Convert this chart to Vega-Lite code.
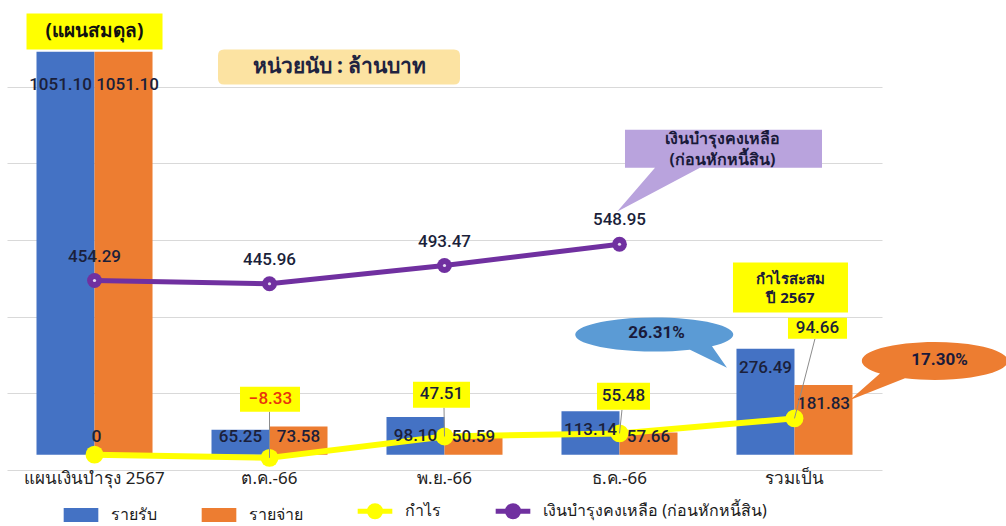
{
  "$schema": "https://vega.github.io/schema/vega-lite/v6.json",
  "width": 875,
  "height": 460,
  "padding": {"left": 7, "top": 10, "right": 0, "bottom": 0},
  "background": "white",
  "config": {"view": {"stroke": null}, "font": "Roboto"},
  "datasets": {
    "main": [
      {"cat": "แผนเงินบำรุง 2567", "series": "รายรับ", "value": 1051.10},
      {"cat": "แผนเงินบำรุง 2567", "series": "รายจ่าย", "value": 1051.10},
      {"cat": "แผนเงินบำรุง 2567", "series": "กำไร", "value": 0},
      {"cat": "แผนเงินบำรุง 2567", "series": "เงินบำรุงคงเหลือ (ก่อนหักหนี้สิน)", "value": 454.29},
      {"cat": "ต.ค.-66", "series": "รายรับ", "value": 65.25},
      {"cat": "ต.ค.-66", "series": "รายจ่าย", "value": 73.58},
      {"cat": "ต.ค.-66", "series": "กำไร", "value": -8.33},
      {"cat": "ต.ค.-66", "series": "เงินบำรุงคงเหลือ (ก่อนหักหนี้สิน)", "value": 445.96},
      {"cat": "พ.ย.-66", "series": "รายรับ", "value": 98.10},
      {"cat": "พ.ย.-66", "series": "รายจ่าย", "value": 50.59},
      {"cat": "พ.ย.-66", "series": "กำไร", "value": 47.51},
      {"cat": "พ.ย.-66", "series": "เงินบำรุงคงเหลือ (ก่อนหักหนี้สิน)", "value": 493.47},
      {"cat": "ธ.ค.-66", "series": "รายรับ", "value": 113.14},
      {"cat": "ธ.ค.-66", "series": "รายจ่าย", "value": 57.66},
      {"cat": "ธ.ค.-66", "series": "กำไร", "value": 55.48},
      {"cat": "ธ.ค.-66", "series": "เงินบำรุงคงเหลือ (ก่อนหักหนี้สิน)", "value": 548.95},
      {"cat": "รวมเป็น", "series": "รายรับ", "value": 276.49},
      {"cat": "รวมเป็น", "series": "รายจ่าย", "value": 181.83},
      {"cat": "รวมเป็น", "series": "กำไร", "value": 94.66}
    ],
    "notes": [
      {"id": "plan", "text": "(แผนสมดุล)"},
      {"id": "unit", "text": "หน่วยนับ : ล้านบาท"},
      {"id": "reserve", "text": "เงินบำรุงคงเหลือ\n(ก่อนหักหนี้สิน)"},
      {"id": "cum", "text": "กำไรสะสม\nปี 2567"},
      {"id": "inc", "text": "26.31%"},
      {"id": "exp", "text": "17.30%"}
    ]
  },
  "data": {"name": "main"},
  "layer": [
    {
      "transform": [{"filter": {"field": "series", "oneOf": ["รายรับ", "รายจ่าย"]}}],
      "mark": {"type": "bar"},
      "encoding": {
        "x": {"field": "cat", "type": "nominal", "title": null,
          "scale": {"domain": ["แผนเงินบำรุง 2567", "ต.ค.-66", "พ.ย.-66", "ธ.ค.-66", "รวมเป็น"], "paddingInner": 0.337, "paddingOuter": 0.1686},
          "axis": {"domain": false, "ticks": false, "labelAngle": 0, "labelFontSize": 17, "labelColor": "#222222", "labelPadding": 0, "labelLimit": 300, "labelFont": "Noto Sans"}},
        "xOffset": {"field": "series", "type": "nominal", "scale": {"domain": ["รายรับ", "รายจ่าย"], "paddingInner": 0, "paddingOuter": 0}},
        "y": {"field": "value", "type": "quantitative", "title": null,
          "scale": {"domain": [-40, 1160], "nice": false, "zero": false},
          "axis": {"values": [-40, 160, 360, 560, 760, 960], "labels": false, "ticks": false, "domain": false, "grid": true, "gridColor": "#d9d9d9", "gridWidth": 1.2}},
        "color": {"field": "series", "type": "nominal",
          "scale": {"domain": ["รายรับ", "รายจ่าย", "กำไร", "เงินบำรุงคงเหลือ (ก่อนหักหนี้สิน)"], "range": ["#4472C4", "#ED7D31", "#FFFF00", "#7030A0"]},
          "legend": {"orient": "none", "legendX": 66, "legendY": 493, "direction": "horizontal", "title": null,
            "labelFont": "Noto Sans", "labelFontSize": 16, "labelColor": "#1a1a1a", "labelLimit": 500, "symbolSize": 1200, "columnPadding": 44, "labelOffset": 22,
            "encode": {"symbols": {"update": {
              "shape": {"signal": "(datum.value == 'รายรับ' || datum.value == 'รายจ่าย') ? 'M-1,-0.4H1V0.4H-1Z' : 'M-1,0H1M0.32,0A0.32,0.32 0 1,1 -0.32,0A0.32,0.32 0 1,1 0.32,0Z'"},
              "fill": {"signal": "scale('color', datum.value)"},
              "stroke": {"signal": "scale('color', datum.value)"},
              "strokeWidth": {"signal": "(datum.value == 'รายรับ' || datum.value == 'รายจ่าย') ? 0 : 5"},
              "opacity": {"value": 1}, "fillOpacity": {"value": 1}, "strokeOpacity": {"value": 1}
            }}}}
        }
      }
    },
    {
      "transform": [{"filter": {"field": "series", "equal": "รายรับ"}}, {"filter": "datum.value > 1000"}],
      "mark": {"type": "text", "dy": 33, "dx": -5, "fontSize": 17, "fontWeight": 500, "color": "#1b1f3a"},
      "encoding": {"x": {"field": "cat", "type": "nominal"}, "xOffset": {"field": "series", "type": "nominal"}, "y": {"field": "value", "type": "quantitative"}, "text": {"field": "value", "type": "quantitative", "format": ".2f"}}
    },
    {
      "transform": [{"filter": {"field": "series", "equal": "รายจ่าย"}}, {"filter": "datum.value > 1000"}],
      "mark": {"type": "text", "dy": 33, "dx": 4, "fontSize": 17, "fontWeight": 500, "color": "#1b1f3a"},
      "encoding": {"x": {"field": "cat", "type": "nominal"}, "xOffset": {"field": "series", "type": "nominal"}, "y": {"field": "value", "type": "quantitative"}, "text": {"field": "value", "type": "quantitative", "format": ".2f"}}
    },
    {
      "transform": [{"filter": {"field": "series", "equal": "เงินบำรุงคงเหลือ (ก่อนหักหนี้สิน)"}}],
      "mark": {"type": "line", "strokeWidth": 5, "point": {"filled": true, "size": 220, "opacity": 1}},
      "encoding": {"x": {"field": "cat", "type": "nominal"}, "y": {"field": "value", "type": "quantitative"}, "color": {"field": "series", "type": "nominal"}}
    },
    {
      "transform": [{"filter": {"field": "series", "equal": "เงินบำรุงคงเหลือ (ก่อนหักหนี้สิน)"}}],
      "mark": {"type": "point", "filled": true, "size": 10, "color": "#e6dcf2", "opacity": 1},
      "encoding": {"x": {"field": "cat", "type": "nominal"}, "y": {"field": "value", "type": "quantitative"}}
    },
    {
      "transform": [{"filter": {"field": "series", "equal": "เงินบำรุงคงเหลือ (ก่อนหักหนี้สิน)"}}],
      "mark": {"type": "text", "dy": -24, "fontSize": 17, "fontWeight": 500, "color": "#1b1f3a"},
      "encoding": {"x": {"field": "cat", "type": "nominal"}, "y": {"field": "value", "type": "quantitative"}, "text": {"field": "value", "type": "quantitative", "format": ".2f"}}
    },
    {
      "transform": [{"filter": {"field": "series", "equal": "กำไร"}}],
      "mark": {"type": "line", "strokeWidth": 6, "point": {"filled": true, "size": 320, "opacity": 1}},
      "encoding": {"x": {"field": "cat", "type": "nominal"}, "y": {"field": "value", "type": "quantitative"}, "color": {"field": "series", "type": "nominal"}}
    },
    {
      "transform": [{"filter": {"field": "series", "oneOf": ["รายรับ", "รายจ่าย"]}}, {"filter": "datum.value >= 90 && datum.value <= 1000"}],
      "mark": {"type": "text", "dy": 19, "fontSize": 17, "fontWeight": 500, "color": "#1b1f3a"},
      "encoding": {"x": {"field": "cat", "type": "nominal"}, "xOffset": {"field": "series", "type": "nominal"}, "y": {"field": "value", "type": "quantitative"}, "text": {"field": "value", "type": "quantitative", "format": ".2f"}}
    },
    {
      "transform": [{"filter": {"field": "series", "oneOf": ["รายรับ", "รายจ่าย"]}}, {"filter": "datum.value < 90"}],
      "mark": {"type": "text", "dy": -18, "fontSize": 17, "fontWeight": 500, "color": "#1b1f3a"},
      "encoding": {"x": {"field": "cat", "type": "nominal"}, "xOffset": {"field": "series", "type": "nominal"}, "y": {"datum": 0, "type": "quantitative"}, "text": {"field": "value", "type": "quantitative", "format": ".2f"}}
    },
    {
      "transform": [{"filter": {"field": "series", "equal": "กำไร"}}, {"filter": {"field": "cat", "equal": "แผนเงินบำรุง 2567"}}],
      "mark": {"type": "text", "dx": 2, "dy": -18, "fontSize": 17, "fontWeight": 500, "color": "#1b1f3a"},
      "encoding": {"x": {"field": "cat", "type": "nominal"}, "y": {"field": "value", "type": "quantitative"}, "text": {"field": "value", "type": "quantitative", "format": "d"}}
    },
    {
      "transform": [{"filter": {"field": "series", "equal": "กำไร"}}, {"filter": {"field": "cat", "equal": "ต.ค.-66"}}],
      "mark": {"type": "point", "filled": false, "size": 40000, "stroke": "#8c8c8c", "strokeWidth": 1, "opacity": 1, "shape": "M0,-0.462L0,0"},
      "encoding": {"x": {"field": "cat", "type": "nominal"}, "y": {"field": "value", "type": "quantitative"}}
    },
    {
      "transform": [{"filter": {"field": "series", "equal": "กำไร"}}, {"filter": {"field": "cat", "equal": "ต.ค.-66"}}],
      "mark": {"type": "point", "filled": true, "size": 40000, "color": "#FFFF00", "opacity": 1, "shape": "M-0.295,-0.712H0.305V-0.462H-0.295Z"},
      "encoding": {"x": {"field": "cat", "type": "nominal"}, "y": {"field": "value", "type": "quantitative"}}
    },
    {
      "transform": [{"filter": {"field": "series", "equal": "กำไร"}}, {"filter": {"field": "cat", "equal": "ต.ค.-66"}}],
      "mark": {"type": "text", "dx": 1, "dy": -59, "fontSize": 17, "fontWeight": 500, "color": "#E8340C"},
      "encoding": {"x": {"field": "cat", "type": "nominal"}, "y": {"field": "value", "type": "quantitative"}, "text": {"field": "value", "type": "quantitative", "format": ".2f"}}
    },
    {
      "transform": [{"filter": {"field": "series", "equal": "กำไร"}}, {"filter": {"field": "cat", "equal": "พ.ย.-66"}}],
      "mark": {"type": "point", "filled": false, "size": 40000, "stroke": "#8c8c8c", "strokeWidth": 1, "opacity": 1, "shape": "M-0.005,-0.288L0,0"},
      "encoding": {"x": {"field": "cat", "type": "nominal"}, "y": {"field": "value", "type": "quantitative"}}
    },
    {
      "transform": [{"filter": {"field": "series", "equal": "กำไร"}}, {"filter": {"field": "cat", "equal": "พ.ย.-66"}}],
      "mark": {"type": "point", "filled": true, "size": 40000, "color": "#FFFF00", "opacity": 1, "shape": "M-0.315,-0.548H0.255V-0.288H-0.315Z"},
      "encoding": {"x": {"field": "cat", "type": "nominal"}, "y": {"field": "value", "type": "quantitative"}}
    },
    {
      "transform": [{"filter": {"field": "series", "equal": "กำไร"}}, {"filter": {"field": "cat", "equal": "พ.ย.-66"}}],
      "mark": {"type": "text", "dx": -3, "dy": -42, "fontSize": 17, "fontWeight": 500, "color": "#1b1f3a"},
      "encoding": {"x": {"field": "cat", "type": "nominal"}, "y": {"field": "value", "type": "quantitative"}, "text": {"field": "value", "type": "quantitative", "format": ".2f"}}
    },
    {
      "transform": [{"filter": {"field": "series", "equal": "กำไร"}}, {"filter": {"field": "cat", "equal": "ธ.ค.-66"}}],
      "mark": {"type": "point", "filled": false, "size": 40000, "stroke": "#8c8c8c", "strokeWidth": 1, "opacity": 1, "shape": "M0.025,-0.237L0,0"},
      "encoding": {"x": {"field": "cat", "type": "nominal"}, "y": {"field": "value", "type": "quantitative"}}
    },
    {
      "transform": [{"filter": {"field": "series", "equal": "กำไร"}}, {"filter": {"field": "cat", "equal": "ธ.ค.-66"}}],
      "mark": {"type": "point", "filled": true, "size": 40000, "color": "#FFFF00", "opacity": 1, "shape": "M-0.225,-0.507H0.305V-0.237H-0.225Z"},
      "encoding": {"x": {"field": "cat", "type": "nominal"}, "y": {"field": "value", "type": "quantitative"}}
    },
    {
      "transform": [{"filter": {"field": "series", "equal": "กำไร"}}, {"filter": {"field": "cat", "equal": "ธ.ค.-66"}}],
      "mark": {"type": "text", "dx": 4, "dy": -37, "fontSize": 17, "fontWeight": 500, "color": "#1b1f3a"},
      "encoding": {"x": {"field": "cat", "type": "nominal"}, "y": {"field": "value", "type": "quantitative"}, "text": {"field": "value", "type": "quantitative", "format": ".2f"}}
    },
    {
      "transform": [{"filter": {"field": "series", "equal": "กำไร"}}, {"filter": {"field": "cat", "equal": "รวมเป็น"}}],
      "mark": {"type": "point", "filled": false, "size": 40000, "stroke": "#8c8c8c", "strokeWidth": 1, "opacity": 1, "shape": "M0.205,-0.797L0,0"},
      "encoding": {"x": {"field": "cat", "type": "nominal"}, "y": {"field": "value", "type": "quantitative"}}
    },
    {
      "transform": [{"filter": {"field": "series", "equal": "กำไร"}}, {"filter": {"field": "cat", "equal": "รวมเป็น"}}],
      "mark": {"type": "point", "filled": true, "size": 40000, "color": "#FFFF00", "opacity": 1, "shape": "M-0.065,-1.007H0.525V-0.797H-0.065Z"},
      "encoding": {"x": {"field": "cat", "type": "nominal"}, "y": {"field": "value", "type": "quantitative"}}
    },
    {
      "transform": [{"filter": {"field": "series", "equal": "กำไร"}}, {"filter": {"field": "cat", "equal": "รวมเป็น"}}],
      "mark": {"type": "text", "dx": 23, "dy": -90, "fontSize": 17, "fontWeight": 500, "color": "#1b1f3a"},
      "encoding": {"x": {"field": "cat", "type": "nominal"}, "y": {"field": "value", "type": "quantitative"}, "text": {"field": "value", "type": "quantitative", "format": ".2f"}}
    },
    {
      "data": {"name": "notes"},
      "transform": [{"filter": {"field": "id", "equal": "plan"}}],
      "mark": {"type": "point", "filled": true, "size": 40000, "color": "#FFFF00", "opacity": 1, "shape": "M-0.68,-0.18H0.68V0.18H-0.68Z"},
      "encoding": {"x": {"datum": "แผนเงินบำรุง 2567", "type": "nominal"}, "y": {"datum": 1104, "type": "quantitative"}}
    },
    {
      "data": {"name": "notes"},
      "transform": [{"filter": {"field": "id", "equal": "plan"}}],
      "mark": {"type": "text", "font": "Noto Sans", "fontSize": 19, "fontWeight": "bold", "color": "#111111"},
      "encoding": {"x": {"datum": "แผนเงินบำรุง 2567", "type": "nominal"}, "y": {"datum": 1104, "type": "quantitative"}, "text": {"field": "text", "type": "nominal"}}
    },
    {
      "data": {"name": "notes"},
      "transform": [{"filter": {"field": "id", "equal": "unit"}}],
      "mark": {"type": "point", "filled": true, "size": 40000, "color": "#FCE3A2", "opacity": 1, "shape": "M-0.455,-0.175H1.845Q1.905,-0.175 1.905,-0.115V0.115Q1.905,0.175 1.845,0.175H-0.455Q-0.515,0.175 -0.515,0.115V-0.115Q-0.515,-0.175 -0.455,-0.175Z"},
      "encoding": {"x": {"datum": "ต.ค.-66", "type": "nominal"}, "y": {"datum": 1011, "type": "quantitative"}}
    },
    {
      "data": {"name": "notes"},
      "transform": [{"filter": {"field": "id", "equal": "unit"}}],
      "mark": {"type": "text", "dx": 70, "font": "Noto Sans", "fontSize": 21, "fontWeight": "bold", "color": "#1F2340"},
      "encoding": {"x": {"datum": "ต.ค.-66", "type": "nominal"}, "y": {"datum": 1011, "type": "quantitative"}, "text": {"field": "text", "type": "nominal"}}
    },
    {
      "data": {"name": "notes"},
      "transform": [{"filter": {"field": "id", "equal": "reserve"}}],
      "mark": {"type": "point", "filled": true, "size": 40000, "color": "#B9A3DD", "opacity": 1, "shape": "M0.055,-0.19H2.025V0.19H0.805L-0.025,0.63L0.355,0.19H0.055Z"},
      "encoding": {"x": {"datum": "ธ.ค.-66", "type": "nominal"}, "y": {"datum": 798, "type": "quantitative"}}
    },
    {
      "data": {"name": "notes"},
      "transform": [{"filter": {"field": "id", "equal": "reserve"}}],
      "mark": {"type": "text", "dx": 103, "dy": -10, "lineBreak": "\n", "lineHeight": 21, "font": "Noto Sans", "fontSize": 16, "fontWeight": "bold", "color": "#1a1a3a"},
      "encoding": {"x": {"datum": "ธ.ค.-66", "type": "nominal"}, "y": {"datum": 798, "type": "quantitative"}, "text": {"field": "text", "type": "nominal"}}
    },
    {
      "data": {"name": "notes"},
      "transform": [{"filter": {"field": "id", "equal": "cum"}}],
      "mark": {"type": "point", "filled": true, "size": 40000, "color": "#FFFF00", "opacity": 1, "shape": "M-0.615,-0.25H0.535V0.25H-0.615Z"},
      "encoding": {"x": {"datum": "รวมเป็น", "type": "nominal"}, "y": {"datum": 436, "type": "quantitative"}}
    },
    {
      "data": {"name": "notes"},
      "transform": [{"filter": {"field": "id", "equal": "cum"}}],
      "mark": {"type": "text", "dx": -4, "dy": -9, "lineBreak": "\n", "lineHeight": 19, "font": "Noto Sans", "fontSize": 15, "fontWeight": "bold", "color": "#1a1a3a"},
      "encoding": {"x": {"datum": "รวมเป็น", "type": "nominal"}, "y": {"datum": 436, "type": "quantitative"}, "text": {"field": "text", "type": "nominal"}}
    },
    {
      "data": {"name": "notes"},
      "transform": [{"filter": {"field": "id", "equal": "inc"}}],
      "mark": {"type": "point", "filled": true, "size": 40000, "color": "#5B9BD5", "opacity": 1, "shape": "M-1.045,0.011L-0.675,0.19L-0.825,-0.0245A0.79,0.17 0 1,0 -1.045,0.011Z"},
      "encoding": {"x": {"datum": "รวมเป็น", "type": "nominal"}, "y": {"datum": 276.49, "type": "quantitative"}}
    },
    {
      "data": {"name": "notes"},
      "transform": [{"filter": {"field": "id", "equal": "inc"}}],
      "mark": {"type": "text", "dx": -138, "dy": -16, "fontSize": 17, "fontWeight": "bold", "color": "#1a1a3a"},
      "encoding": {"x": {"datum": "รวมเป็น", "type": "nominal"}, "y": {"datum": 276.49, "type": "quantitative"}, "text": {"field": "text", "type": "nominal"}}
    },
    {
      "data": {"name": "notes"},
      "transform": [{"filter": {"field": "id", "equal": "exp"}}],
      "mark": {"type": "point", "filled": true, "size": 40000, "color": "#ED7D31", "opacity": 1, "shape": "M1.105,-0.067L0.555,0.15L0.855,-0.115A0.73,0.19 0 1,1 1.105,-0.067Z"},
      "encoding": {"x": {"datum": "รวมเป็น", "type": "nominal"}, "y": {"datum": 181.83, "type": "quantitative"}}
    },
    {
      "data": {"name": "notes"},
      "transform": [{"filter": {"field": "id", "equal": "exp"}}],
      "mark": {"type": "text", "dx": 145, "dy": -25, "fontSize": 17, "fontWeight": "bold", "color": "#1a1a3a"},
      "encoding": {"x": {"datum": "รวมเป็น", "type": "nominal"}, "y": {"datum": 181.83, "type": "quantitative"}, "text": {"field": "text", "type": "nominal"}}
    }
  ]
}
